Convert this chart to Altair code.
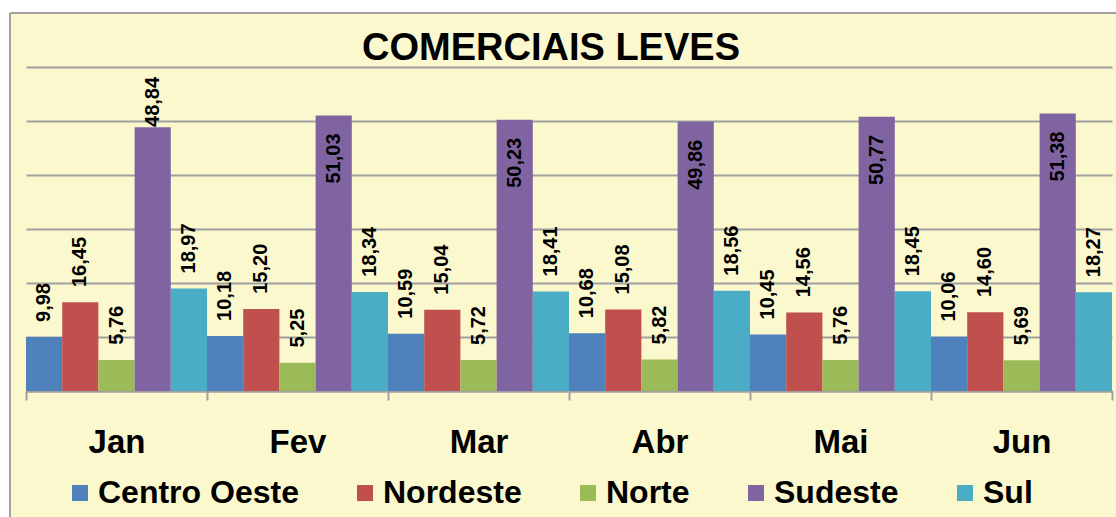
import altair as alt
import pandas as pd

months = ["Jan", "Fev", "Mar", "Abr", "Mai", "Jun"]
series = ["Centro Oeste", "Nordeste", "Norte", "Sudeste", "Sul"]
centro_oeste = [9.98, 10.18, 10.59, 10.68, 10.45, 10.06]
nordeste = [16.45, 15.20, 15.04, 15.08, 14.56, 14.60]
norte = [5.76, 5.25, 5.72, 5.82, 5.76, 5.69]
sudeste = [48.84, 51.03, 50.23, 49.86, 50.77, 51.38]
sul = [18.97, 18.34, 18.41, 18.56, 18.45, 18.27]
colors = ["#4F81BD", "#C0504D", "#9BBB59", "#8064A2", "#4BACC6"]
title_text = "COMERCIAIS LEVES"

rows = []
for name, vals in zip(series, [centro_oeste, nordeste, norte, sudeste, sul]):
    for m, v in zip(months, vals):
        rows.append({"month": m, "series": name, "value": v})
df = pd.DataFrame(rows)

W, H = 1086, 324
FONT = "Liberation Sans"
BG = "#FBF8CE"
GRID = "#A0A0A0"

x_enc = alt.X("month:N", sort=months,
              scale=alt.Scale(paddingInner=0, paddingOuter=0),
              axis=alt.Axis(title=None, labelAngle=0, labelFontSize=33, labelFont=FONT,
                            labelFontWeight="bold", labelColor="black", labelPadding=26,
                            tickBand="extent", tickSize=9, tickColor=GRID, tickWidth=2,
                            domainColor=GRID, domainWidth=2, grid=False))
xo_enc = alt.XOffset("series:N", sort=series, scale=alt.Scale(paddingInner=0, paddingOuter=0))

one = pd.DataFrame({"a": [0]})
# white margins outside the chart frame (top and left), and the frame border
top_strip = alt.Chart(one).mark_rect(fill="white").encode(
    x=alt.value(-30), x2=alt.value(W + 40), y=alt.value(-70), y2=alt.value(-54))
left_strip = alt.Chart(one).mark_rect(fill="white").encode(
    x=alt.value(-30), x2=alt.value(-16), y=alt.value(-70), y2=alt.value(H + 160))
top_border = alt.Chart(one).mark_rule(color=GRID, strokeWidth=2).encode(
    x=alt.value(-16), x2=alt.value(W + 40), y=alt.value(-54))
left_border = alt.Chart(one).mark_rule(color=GRID, strokeWidth=2).encode(
    x=alt.value(-16), y=alt.value(-54), y2=alt.value(H + 160))

title = alt.Chart(pd.DataFrame({"t": [title_text]})).mark_text(
    font=FONT, fontSize=38, fontWeight="bold", color="black", align="center", baseline="alphabetic"
).encode(text="t:N", x=alt.value(525), y=alt.value(-7))

bars = alt.Chart(df).mark_bar(strokeWidth=0).encode(
    x=x_enc,
    xOffset=xo_enc,
    y=alt.Y("value:Q", scale=alt.Scale(domain=[0, 60], nice=False),
            axis=alt.Axis(title=None, labels=False, ticks=False, domain=False,
                          values=[0, 10, 20, 30, 40, 50, 60], grid=True,
                          gridColor=GRID, gridWidth=2, gridOpacity=1)),
    color=alt.Color("series:N", sort=series,
                    scale=alt.Scale(domain=series, range=colors),
                    legend=alt.Legend(title=None, orient="none", legendX=38, legendY=410,
                                      direction="horizontal", symbolType="square", padding=0,
                                      symbolSize=256, symbolStrokeWidth=0, symbolOpacity=1,
                                      labelFontSize=32, labelFont=FONT, labelFontWeight="bold",
                                      labelColor="black", labelOffset=2, labelLimit=400,
                                      columnPadding=50)),
)

lab_base = alt.Chart(df).transform_calculate(
    lab="replace(format(datum.value, '.2f'), '.', ',')"
)

labels_out = lab_base.transform_filter("datum.value < 49").transform_calculate(
    pos="min(datum.value + 2.8, 48.9)"
).mark_text(
    angle=270, align="left", baseline="middle", font=FONT, fontSize=20,
    fontWeight="bold", color="black"
).encode(x=alt.X("month:N", sort=months), xOffset=xo_enc,
         y=alt.Y("pos:Q"), text="lab:N")

labels_in = lab_base.transform_filter("datum.value >= 49").mark_text(
    angle=270, align="right", baseline="middle", dx=-18, font=FONT, fontSize=20,
    fontWeight="bold", color="black"
).encode(x=alt.X("month:N", sort=months), xOffset=xo_enc,
         y=alt.Y("value:Q"), text="lab:N")

chart = alt.layer(top_strip, left_strip, top_border, left_border, title, bars,
                  labels_out, labels_in).properties(
    width=W, height=H,
    autosize=alt.AutoSizeParams(type="none"),
    padding={"left": 26, "top": 67, "right": 4, "bottom": 126},
    background=BG,
).configure_view(stroke=None)

chart.save("out.html", embed_options={"renderer": "svg", "actions": False})
